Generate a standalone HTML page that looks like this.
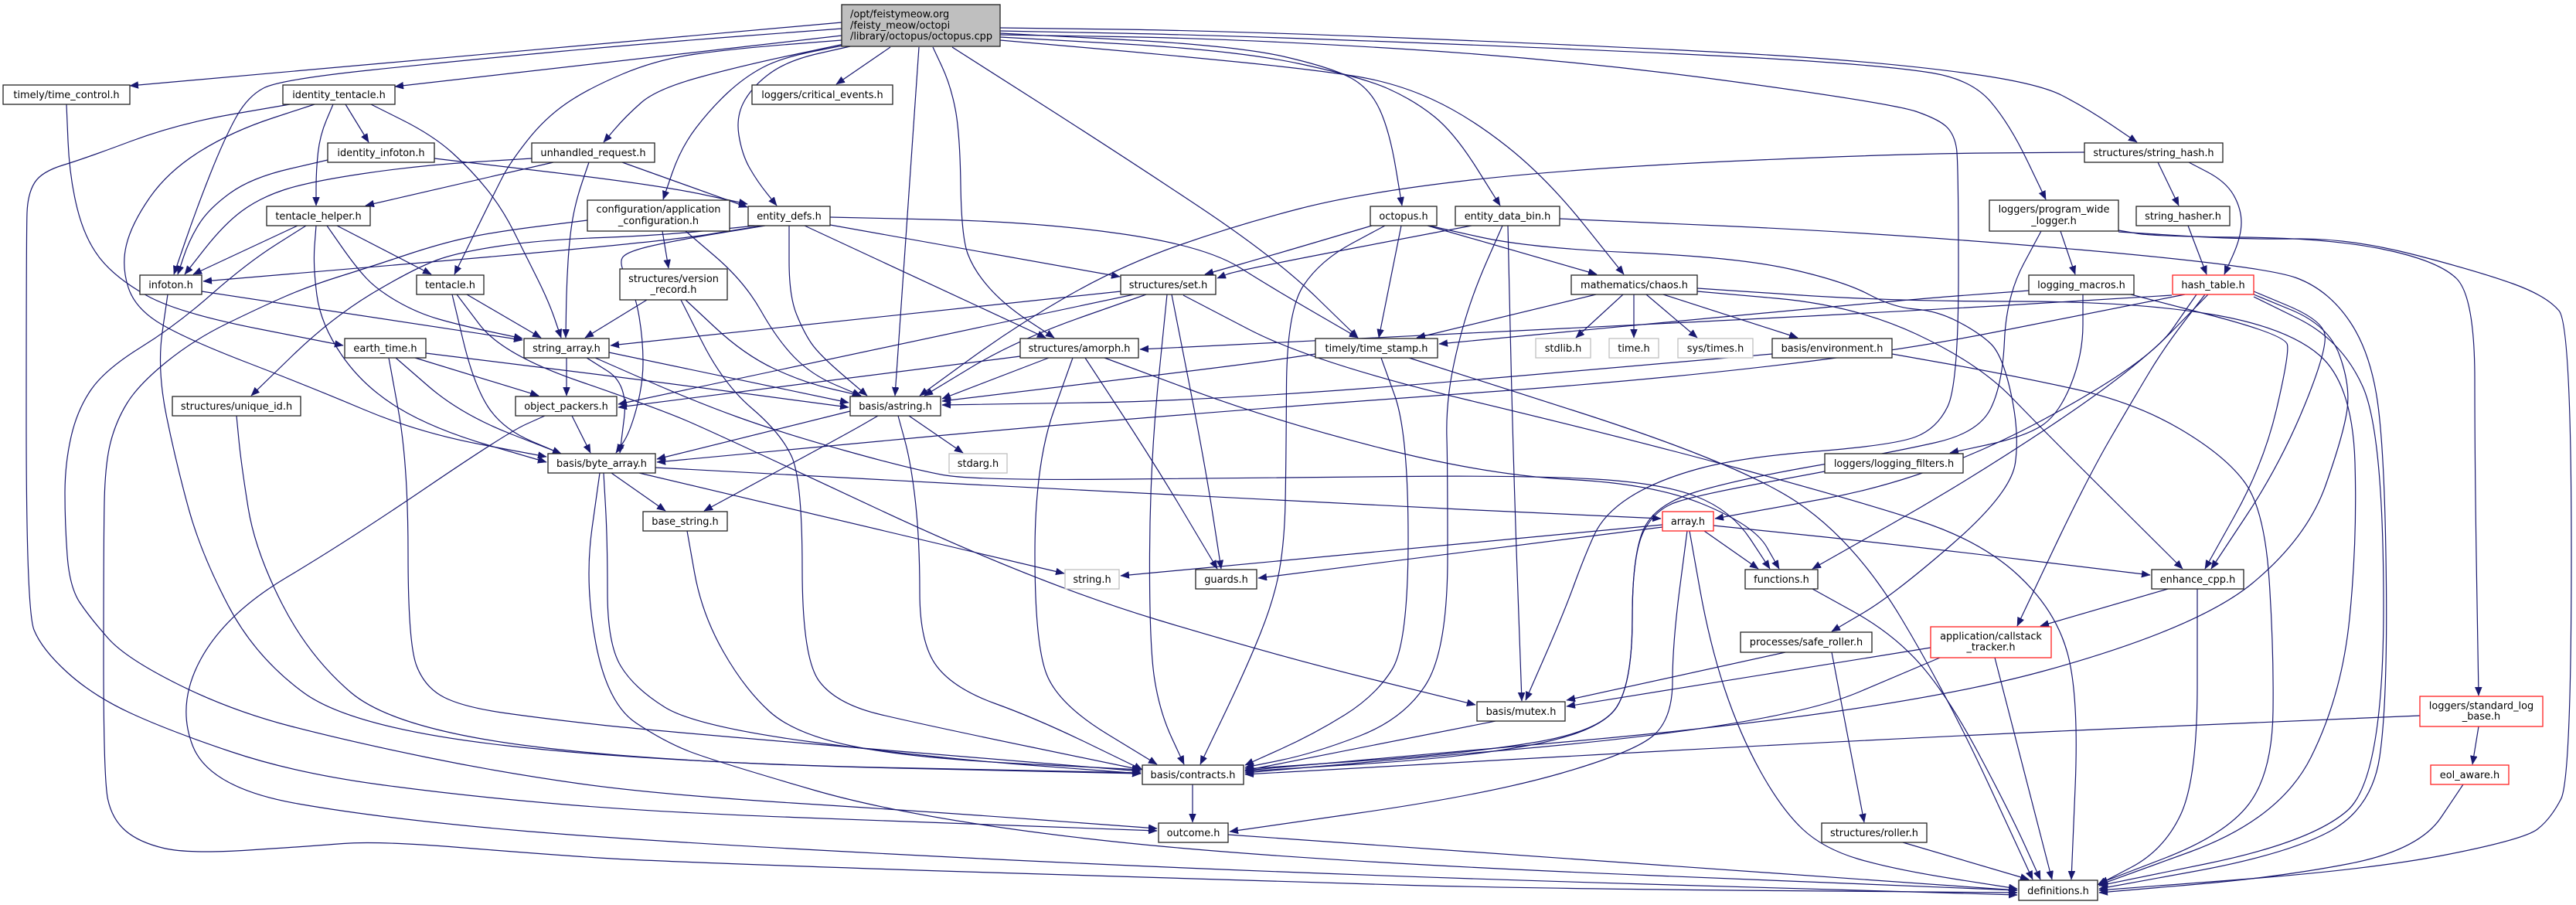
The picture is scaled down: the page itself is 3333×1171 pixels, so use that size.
<!DOCTYPE html>
<html><head><meta charset="utf-8"><style>
html,body{margin:0;padding:0;background:#fff;}
svg{display:block;}
text{font-family:"DejaVu Sans","Liberation Sans",sans-serif;font-size:12.9px;fill:#000;}
.e{fill:none;stroke:#191970;stroke-width:1.2;stroke-linejoin:round;marker-end:url(#ah);}
.n{fill:#fff;stroke:#222;stroke-width:1.3;}
.r{fill:#fff;stroke:#ff2020;stroke-width:1.3;}
.g{fill:#fff;stroke:#bfbfbf;stroke-width:1.3;}
</style></head><body>
<svg width="3333" height="1171" viewBox="0 0 3333 1171" xmlns="http://www.w3.org/2000/svg">
<defs><marker id="ah" markerUnits="userSpaceOnUse" markerWidth="12" markerHeight="10" refX="11" refY="4.5" orient="auto"><path d="M0,0 L11,4.5 L0,9 z" fill="#191970" stroke="#191970" stroke-width="0.5"/></marker></defs>
<rect width="3333" height="1171" fill="#fff"/>
<g>
<path class="e" d="M86,135 L90,230 L110,310 L150,360 L230,405 L444,447"/>
<path class="e" d="M1089,29 L168,111"/>
<path class="e" d="M1089,46 L511,112"/>
<path class="e" d="M1089,37 L850,55 L600,78 L362,103 L320,125 L290,180 L255,268 L225,355"/>
<path class="e" d="M1089,52 L950,63 L850,77 L760,115 L705,153 L660,210 L640,249 L588,355"/>
<path class="e" d="M1092,57 L960,85 L850,115 L810,150 L781,184"/>
<path class="e" d="M1095,58 L1010,75 L963,100 L920,140 L881,191 L858,258"/>
<path class="e" d="M1100,60 L1020,78 L975,110 L952,150 L960,200 L980,235 L1005,266"/>
<path class="e" d="M1152,61 L1082,109"/>
<path class="e" d="M1189,61 L1158,512"/>
<path class="e" d="M1207,61 L1230,110 L1242,172 L1244,306 L1260,350 L1300,395 L1364,437"/>
<path class="e" d="M1232,61 L1450,200 L1650,333 L1757,437"/>
<path class="e" d="M1294,43 L1600,59 L1725,88 L1773,115 L1798,170 L1814,266"/>
<path class="e" d="M1294,48 L1600,65 L1763,100 L1830,130 L1882,172 L1941,266"/>
<path class="e" d="M1294,52 L1500,70 L1700,90 L1806,107 L1900,150 L2001,230 L2101,355"/>
<path class="e" d="M1294,36 L1600,40 L2200,65 L2450,82 L2636,107 L2700,140 L2765,184"/>
<path class="e" d="M1294,40 L1600,46 L2200,70 L2450,86 L2551,103 L2600,160 L2647,258"/>
<path class="e" d="M1294,45 L1600,50 L2034,77 L2450,134 L2510,155 L2529,175 L2534,210 L2534,497 L2506,555 L2450,576 L2250,592 L2142,622 L2075,665 L2050,720 L2023,794 L1974,906"/>
<path class="e" d="M447,135 L477,184"/>
<path class="e" d="M431,135 L414,175 L409,220 L409,266"/>
<path class="e" d="M407,135 L300,170 L217,222 L170,290 L157,344 L175,400 L244,440 L400,500 L542,560 L707,591"/>
<path class="e" d="M375,135 L230,160 L110,205 L54,222 L36,250 L34,300 L34,790 L54,840 L120,900 L217,945 L380,1000 L600,1030 L850,1051 L1200,1064 L1497,1075"/>
<path class="e" d="M480,135 L560,175 L610,220 L650,270 L680,330 L710,390 L726,437"/>
<path class="e" d="M424,207 L325,230 L270,270 L245,310 L230,355"/>
<path class="e" d="M562,205 L850,239 L967,264"/>
<path class="e" d="M716,210 L473,266"/>
<path class="e" d="M688,205 L542,214 L400,235 L336,256 L290,290 L239,355"/>
<path class="e" d="M762,210 L745,260 L737,306 L733,370 L732,437"/>
<path class="e" d="M805,210 L967,268"/>
<path class="e" d="M385,292 L250,355"/>
<path class="e" d="M396,292 L320,340 L228,421 L136,478 L100,530 L84,600 L84,677 L90,760 L117,800 L163,852 L300,920 L455,960 L650,1000 L850,1028 L1200,1050 L1497,1072"/>
<path class="e" d="M409,292 L405,344 L415,420 L470,500 L560,555 L707,598"/>
<path class="e" d="M436,292 L558,355"/>
<path class="e" d="M423,292 L460,345 L488,375 L540,405 L596,421 L676,438"/>
<path class="e" d="M760,285 L640,300 L570,315 L480,345 L400,370 L336,398 L250,440 L179,498 L150,545 L136,600 L134,700 L134,1008 L145,1060 L180,1090 L244,1105 L400,1095 L488,1088 L700,1105 L850,1115 L1650,1141 L2000,1150 L2610,1155"/>
<path class="e" d="M857,299 L865,347"/>
<path class="e" d="M887,299 L963,364 L1006,440 L1050,485 L1114,512"/>
<path class="e" d="M987,292 L850,314 L263,364"/>
<path class="e" d="M978,292 L850,305 L705,310 L600,325 L542,344 L430,410 L325,512"/>
<path class="e" d="M990,292 L880,310 L812,325 L800,340 L822,380 L832,440 L832,497 L815,560 L797,586"/>
<path class="e" d="M1021,292 L1021,383 L1040,430 L1060,459 L1122,512"/>
<path class="e" d="M1074,291 L1449,358"/>
<path class="e" d="M1041,292 L1353,437"/>
<path class="e" d="M1074,281 L1342,287 L1559,318 L1650,375 L1757,437"/>
<path class="e" d="M1775,292 L1650,329 L1559,355"/>
<path class="e" d="M1792,292 L1708,337 L1665,402 L1664,600 L1662,700 L1649,774 L1613,864 L1553,989"/>
<path class="e" d="M1813,292 L1784,437"/>
<path class="e" d="M1847,292 L2066,355"/>
<path class="e" d="M1849,292 L1979,321 L2250,333 L2386,364 L2450,398 L2506,402 L2560,430 L2591,459 L2613,560 L2602,638 L2450,770 L2370,817"/>
<path class="e" d="M1904,292 L1600,350 L1575,360"/>
<path class="e" d="M1944,292 L1904,383 L1880,470 L1871,536 L1873,600 L1873,841 L1817,930 L1700,975 L1611,993"/>
<path class="e" d="M1951,292 L1958,600 L1969,907"/>
<path class="e" d="M2018,283 L2450,302 L2929,344 L3013,375 L3069,459 L3086,600 L3089,911 L3069,1047 L2957,1106 L2716,1150"/>
<path class="e" d="M2666,299 L2685,355"/>
<path class="e" d="M2641,299 L2596,383 L2591,498 L2560,560 L2450,585 L2250,620 L2142,652 L2112,716 L2112,883 L2072,946 L1900,975 L1611,995"/>
<path class="e" d="M2741,298 L2788,306 L3013,308 L3154,337 L3202,383 L3202,600 L3207,900"/>
<path class="e" d="M2741,300 L2900,310 L3041,308 L3210,352 L3295,383 L3327,421 L3327,1008 L3300,1060 L3266,1086 L3069,1125 L2716,1152"/>
<path class="e" d="M2697,197 L2450,199 L2034,218 L1763,249 L1600,291 L1450,344 L1315,421 L1190,512"/>
<path class="e" d="M2792,210 L2819,266"/>
<path class="e" d="M2832,210 L2880,235 L2900,270 L2900,306 L2878,355"/>
<path class="e" d="M2831,292 L2855,355"/>
<path class="e" d="M261,377 L676,440"/>
<path class="e" d="M217,381 L203,478 L228,600 L260,716 L330,850 L455,942 L850,987 L1476,1000"/>
<path class="e" d="M604,381 L700,437"/>
<path class="e" d="M585,381 L613,498 L650,555 L726,587"/>
<path class="e" d="M591,381 L650,459 L850,528 L925,560 L1342,755 L1650,848 L1909,912"/>
<path class="e" d="M837,388 L757,437"/>
<path class="e" d="M887,388 L963,459 L1040,495 L1114,512"/>
<path class="e" d="M881,388 L936,497 L1010,560 L1038,620 L1038,852 L1082,911 L1196,938 L1476,996"/>
<path class="e" d="M537,463 L697,512"/>
<path class="e" d="M512,463 L596,536 L726,587"/>
<path class="e" d="M503,463 L528,600 L528,833 L550,890 L600,915 L705,930 L850,946 L1476,998"/>
<path class="e" d="M551,457 L850,494 L1098,527"/>
<path class="e" d="M733,463 L733,512"/>
<path class="e" d="M788,456 L1098,521"/>
<path class="e" d="M759,463 L813,497 L802,586"/>
<path class="e" d="M770,463 L900,520 L1011,560 L1179,607 L1261,622 L1650,618 L1979,615 L2150,625 L2240,660 L2290,736"/>
<path class="e" d="M1450,377 L790,447"/>
<path class="e" d="M1467,381 L800,523"/>
<path class="e" d="M1483,381 L1315,440 L1196,512"/>
<path class="e" d="M1510,381 L1488,600 L1487,833 L1500,920 L1532,989"/>
<path class="e" d="M1516,381 L1559,600 L1580,736"/>
<path class="e" d="M1531,382 L1700,470 L2102,566 L2400,647 L2564,700 L2660,790 L2690,900 L2680,1138"/>
<path class="e" d="M2065,381 L1833,437"/>
<path class="e" d="M2100,381 L2039,437"/>
<path class="e" d="M2114,381 L2114,437"/>
<path class="e" d="M2130,381 L2196,437"/>
<path class="e" d="M2152,381 L2326,437"/>
<path class="e" d="M2196,373 L2450,390 L2761,390 L2959,423 L3044,497 L3050,700 L3030,900 L2950,1060 L2716,1145"/>
<path class="e" d="M2196,377 L2400,395 L2560,470 L2647,560 L2824,736"/>
<path class="e" d="M2625,376 L2450,389 L1862,445"/>
<path class="e" d="M2695,381 L2695,459 L2664,536 L2620,565 L2523,586"/>
<path class="e" d="M2853,381 L2800,450 L2761,515 L2700,620 L2610,810"/>
<path class="e" d="M2757,381 L2957,433 L2962,459 L2929,600 L2853,736"/>
<path class="e" d="M2827,381 L2338,478 L1488,538 L850,598"/>
<path class="e" d="M2810,382 L2450,404 L1475,452"/>
<path class="e" d="M2842,381 L2780,470 L2500,620 L2219,671"/>
<path class="e" d="M2857,381 L2760,480 L2550,620 L2345,736"/>
<path class="e" d="M2916,377 L3002,413 L3013,448 L2951,600 L2861,736"/>
<path class="e" d="M2916,381 L3013,421 L3041,498 L3033,560 L2985,696 L2844,813 L2450,922 L1611,997"/>
<path class="e" d="M2916,384 L3030,440 L3084,560 L3084,1008 L2990,1090 L2716,1146"/>
<path class="e" d="M2293,458 L1600,518 L1219,524"/>
<path class="e" d="M2448,458 L2600,485 L2761,520 L2880,590 L2930,660 L2942,840 L2940,1000 L2880,1080 L2716,1143"/>
<path class="e" d="M1320,461 L800,527"/>
<path class="e" d="M1357,463 L1219,516"/>
<path class="e" d="M1388,463 L1339,600 L1339,833 L1369,911 L1497,989"/>
<path class="e" d="M1404,463 L1494,600 L1575,736"/>
<path class="e" d="M1429,463 L1650,545 L1925,615 L2140,626 L2270,680 L2302,736"/>
<path class="e" d="M1702,458 L1600,473 L1219,519"/>
<path class="e" d="M1787,463 L1822,560 L1822,833 L1780,900 L1700,950 L1611,990"/>
<path class="e" d="M1823,463 L2251,600 L2400,700 L2520,900 L2630,1138"/>
<path class="e" d="M306,538 L312,600 L330,713 L400,850 L508,942 L850,987 L1476,1001"/>
<path class="e" d="M740,538 L764,586"/>
<path class="e" d="M705,538 L656,560 L450,700 L292,794 L228,911 L271,1020 L500,1060 L850,1090 L1650,1130 L2610,1158"/>
<path class="e" d="M1100,532 L850,594"/>
<path class="e" d="M1136,538 L1098,560 L911,661"/>
<path class="e" d="M1176,538 L1246,586"/>
<path class="e" d="M1162,538 L1179,600 L1190,700 L1190,833 L1234,891 L1342,930 L1478,996"/>
<path class="e" d="M791,612 L861,661"/>
<path class="e" d="M827,612 L1377,742"/>
<path class="e" d="M848,605 L1650,648 L2149,671"/>
<path class="e" d="M781,612 L786,700 L786,833 L820,890 L900,940 L1200,980 L1476,1001"/>
<path class="e" d="M776,612 L756,755 L786,911 L860,960 L925,985 L1179,1059 L1650,1113 L2610,1152"/>
<path class="e" d="M889,687 L908,794 L963,891 L1028,950 L1179,981 L1476,996"/>
<path class="e" d="M2151,679 L1600,731 L1450,745"/>
<path class="e" d="M2151,682 L1628,748"/>
<path class="e" d="M2205,687 L2275,736"/>
<path class="e" d="M2217,680 L2450,704 L2782,744"/>
<path class="e" d="M2183,687 L2164,833 L2164,930 L2115,973 L1925,1028 L1591,1076"/>
<path class="e" d="M2186,687 L2212,833 L2251,950 L2305,1047 L2359,1098 L2450,1125 L2610,1150"/>
<path class="e" d="M2345,762 L2450,820 L2520,900 L2600,1050 L2640,1138"/>
<path class="e" d="M2805,762 L2640,810"/>
<path class="e" d="M2843,762 L2843,1008 L2800,1100 L2714,1145"/>
<path class="e" d="M2310,844 L2027,906"/>
<path class="e" d="M2370,844 L2412,1064"/>
<path class="e" d="M2498,838 L2027,914"/>
<path class="e" d="M2510,851 L2300,940 L1611,1000"/>
<path class="e" d="M2581,851 L2655,1138"/>
<path class="e" d="M1935,933 L1611,997"/>
<path class="e" d="M3131,926 L2450,955 L1611,1002"/>
<path class="e" d="M3207,940 L3199,989"/>
<path class="e" d="M1543,1015 L1543,1064"/>
<path class="e" d="M1589,1080 L2610,1152"/>
<path class="e" d="M2462,1090 L2625,1138"/>
<path class="e" d="M3187,1015 L3130,1100 L2950,1135 L2716,1155"/>
<path class="e" d="M2361,610 L2200,640 L2142,658 L2112,716 L2112,883 L2072,946 L1900,980 L1611,998"/>
</g>
<g>
<rect x="1089" y="6" width="205" height="54" fill="#bfbfbf" stroke="#222" stroke-width="1.3"/>
<text x="1100" y="22.5">/opt/feistymeow.org</text>
<text x="1100" y="37">/feisty_meow/octopi</text>
<text x="1100" y="51">/library/octopus/octopus.cpp</text>

<rect class="n" x="4" y="110" width="164" height="25"/><text x="86" y="127" text-anchor="middle">timely/time_control.h</text>
<rect class="n" x="366" y="110" width="145" height="25"/><text x="438.5" y="127" text-anchor="middle">identity_tentacle.h</text>
<rect class="n" x="973" y="110" width="182" height="25"/><text x="1064" y="127" text-anchor="middle">loggers/critical_events.h</text>
<rect class="n" x="424" y="185" width="138" height="25"/><text x="493" y="202" text-anchor="middle">identity_infoton.h</text>
<rect class="n" x="688" y="185" width="159" height="25"/><text x="767.5" y="202" text-anchor="middle">unhandled_request.h</text>
<rect class="n" x="2697" y="185" width="179" height="25"/><text x="2786.5" y="202" text-anchor="middle">structures/string_hash.h</text>
<rect class="n" x="345" y="267" width="134" height="25"/><text x="412" y="284" text-anchor="middle">tentacle_helper.h</text>
<rect class="n" x="760" y="259" width="184" height="40"/><text x="852" y="275" text-anchor="middle">configuration/application</text><text x="852" y="290" text-anchor="middle">_configuration.h</text>
<rect class="n" x="968" y="267" width="106" height="25"/><text x="1021" y="284" text-anchor="middle">entity_defs.h</text>
<rect class="n" x="1773" y="267" width="86" height="25"/><text x="1816" y="284" text-anchor="middle">octopus.h</text>
<rect class="n" x="1883" y="267" width="135" height="25"/><text x="1950.5" y="284" text-anchor="middle">entity_data_bin.h</text>
<rect class="n" x="2574" y="259" width="167" height="40"/><text x="2657.5" y="275" text-anchor="middle">loggers/program_wide</text><text x="2657.5" y="290" text-anchor="middle">_logger.h</text>
<rect class="n" x="2764" y="267" width="121" height="25"/><text x="2824.5" y="284" text-anchor="middle">string_hasher.h</text>
<rect class="n" x="181" y="356" width="80" height="25"/><text x="221" y="373" text-anchor="middle">infoton.h</text>
<rect class="n" x="539" y="356" width="87" height="25"/><text x="582.5" y="373" text-anchor="middle">tentacle.h</text>
<rect class="n" x="802" y="348" width="139" height="40"/><text x="871.5" y="365" text-anchor="middle">structures/version</text><text x="871.5" y="379" text-anchor="middle">_record.h</text>
<rect class="n" x="1450" y="356" width="123" height="25"/><text x="1511.5" y="373" text-anchor="middle">structures/set.h</text>
<rect class="n" x="2033" y="356" width="163" height="25"/><text x="2114.5" y="373" text-anchor="middle">mathematics/chaos.h</text>
<rect class="n" x="2625" y="356" width="136" height="25"/><text x="2693" y="373" text-anchor="middle">logging_macros.h</text>
<rect class="r" x="2811" y="356" width="105" height="25"/><text x="2863.5" y="373" text-anchor="middle">hash_table.h</text>
<rect class="n" x="446" y="438" width="105" height="25"/><text x="498.5" y="455" text-anchor="middle">earth_time.h</text>
<rect class="n" x="678" y="438" width="110" height="25"/><text x="733" y="455" text-anchor="middle">string_array.h</text>
<rect class="n" x="1320" y="438" width="153" height="25"/><text x="1396.5" y="455" text-anchor="middle">structures/amorph.h</text>
<rect class="n" x="1702" y="438" width="158" height="25"/><text x="1781" y="455" text-anchor="middle">timely/time_stamp.h</text>
<rect class="g" x="1987" y="438" width="71" height="25"/><text x="2022.5" y="455" text-anchor="middle">stdlib.h</text>
<rect class="g" x="2082" y="438" width="64" height="25"/><text x="2114" y="455" text-anchor="middle">time.h</text>
<rect class="g" x="2171" y="438" width="97" height="25"/><text x="2219.5" y="455" text-anchor="middle">sys/times.h</text>
<rect class="n" x="2293" y="438" width="155" height="25"/><text x="2370.5" y="455" text-anchor="middle">basis/environment.h</text>
<rect class="n" x="223" y="513" width="166" height="25"/><text x="306" y="530" text-anchor="middle">structures/unique_id.h</text>
<rect class="n" x="667" y="513" width="131" height="25"/><text x="732.5" y="530" text-anchor="middle">object_packers.h</text>
<rect class="n" x="1100" y="513" width="117" height="25"/><text x="1158.5" y="530" text-anchor="middle">basis/astring.h</text>
<rect class="n" x="709" y="587" width="139" height="25"/><text x="778.5" y="604" text-anchor="middle">basis/byte_array.h</text>
<rect class="g" x="1228" y="587" width="75" height="25"/><text x="1265.5" y="604" text-anchor="middle">stdarg.h</text>
<rect class="n" x="2361" y="587" width="179" height="25"/><text x="2450.5" y="604" text-anchor="middle">loggers/logging_filters.h</text>
<rect class="n" x="832" y="662" width="109" height="25"/><text x="886.5" y="679" text-anchor="middle">base_string.h</text>
<rect class="r" x="2151" y="662" width="66" height="25"/><text x="2184" y="679" text-anchor="middle">array.h</text>
<rect class="g" x="1378" y="737" width="70" height="25"/><text x="1413" y="754" text-anchor="middle">string.h</text>
<rect class="n" x="1547" y="737" width="79" height="25"/><text x="1586.5" y="754" text-anchor="middle">guards.h</text>
<rect class="n" x="2258" y="737" width="94" height="25"/><text x="2305" y="754" text-anchor="middle">functions.h</text>
<rect class="n" x="2784" y="737" width="119" height="25"/><text x="2843.5" y="754" text-anchor="middle">enhance_cpp.h</text>
<rect class="n" x="2252" y="818" width="170" height="26"/><text x="2337" y="835" text-anchor="middle">processes/safe_roller.h</text>
<rect class="r" x="2498" y="811" width="156" height="40"/><text x="2576" y="827.5" text-anchor="middle">application/callstack</text><text x="2576" y="841.5" text-anchor="middle">_tracker.h</text>
<rect class="n" x="1911" y="908" width="114" height="25"/><text x="1968" y="925" text-anchor="middle">basis/mutex.h</text>
<rect class="r" x="3131" y="901" width="159" height="39"/><text x="3210.5" y="917.5" text-anchor="middle">loggers/standard_log</text><text x="3210.5" y="931" text-anchor="middle">_base.h</text>
<rect class="n" x="1478" y="990" width="131" height="25"/><text x="1543.5" y="1007" text-anchor="middle">basis/contracts.h</text>
<rect class="r" x="3145" y="990" width="101" height="25"/><text x="3195.5" y="1007" text-anchor="middle">eol_aware.h</text>
<rect class="n" x="1499" y="1065" width="90" height="25"/><text x="1544" y="1082" text-anchor="middle">outcome.h</text>
<rect class="n" x="2357" y="1065" width="136" height="25"/><text x="2425" y="1082" text-anchor="middle">structures/roller.h</text>
<rect class="n" x="2612" y="1139" width="102" height="26"/><text x="2663" y="1157" text-anchor="middle">definitions.h</text>
</g>
</svg>
<script>
(function(){
  try{
    var ps=document.querySelectorAll('path.e');
    for(var k=0;k<ps.length;k++){
      var p=ps[k];
      var n=(p.getAttribute('d').match(/-?\d+(\.\d+)?/g)||[]).map(Number);
      var pts=[];
      for(var i=0;i+1<n.length;i+=2)pts.push([n[i],n[i+1]]);
      if(pts.length<3)continue;
      var m=function(a,b){return ((a[0]+b[0])/2)+','+((a[1]+b[1])/2);};
      var d='M'+pts[0][0]+','+pts[0][1]+' L'+m(pts[0],pts[1]);
      for(var j=1;j<pts.length-1;j++){d+=' Q'+pts[j][0]+','+pts[j][1]+' '+m(pts[j],pts[j+1]);}
      var L=pts[pts.length-1];
      d+=' L'+L[0]+','+L[1];
      p.setAttribute('d',d);
    }
  }catch(e){}
})();
</script>
</body></html>
